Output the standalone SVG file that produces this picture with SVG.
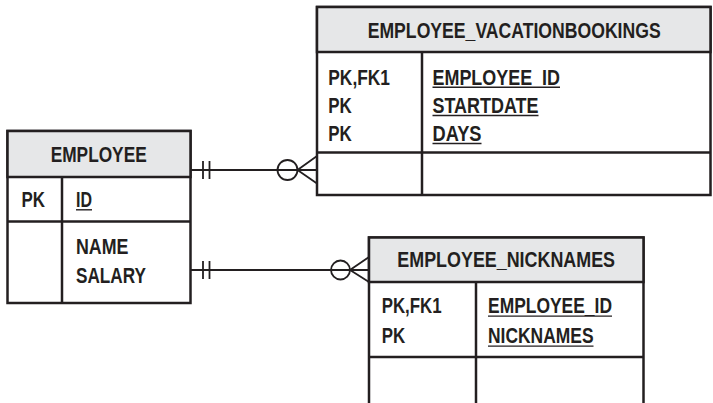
<svg xmlns="http://www.w3.org/2000/svg" width="713" height="403" viewBox="0 0 713 403">
<style>
.box{fill:#fff;stroke:#231f20;stroke-width:2.5}
.hdr{fill:#e6e7e8;stroke:#231f20;stroke-width:2.5}
.ln{stroke:#231f20;stroke-width:2.5;fill:none}
.cn{stroke:#231f20;stroke-width:1.8;fill:none}
.ul{stroke:#231f20;stroke-width:1.4}
text{font-family:"Liberation Sans",Arial,sans-serif;font-size:21.5px;font-weight:bold;fill:#231f20}
.c{text-anchor:middle}
</style>
<rect width="713" height="403" fill="#fff"/>
<g id="connectors">
  <line class="cn" x1="190.5" y1="170" x2="317" y2="170"/>
  <line class="cn" x1="203" y1="161" x2="203" y2="179"/>
  <line class="cn" x1="209.5" y1="161" x2="209.5" y2="179"/>
  <circle class="cn" cx="287.5" cy="170" r="10" fill="#fff"/>
  <line class="cn" x1="287.5" y1="170" x2="317" y2="170"/>
  <polyline class="cn" points="317,156 297.5,170 317,183.5"/>
  <line class="cn" x1="190.5" y1="270" x2="369" y2="270"/>
  <line class="cn" x1="203" y1="261" x2="203" y2="279"/>
  <line class="cn" x1="209.5" y1="261" x2="209.5" y2="279"/>
  <circle class="cn" cx="340.5" cy="270" r="9.5" fill="#fff"/>
  <line class="cn" x1="340.5" y1="270" x2="369" y2="270"/>
  <polyline class="cn" points="369,257 350,270 369,282"/>
</g>
<g id="employee">
  <rect class="box" x="7.5" y="131" width="183" height="172"/>
  <rect class="hdr" x="7.5" y="131" width="183" height="46"/>
  <line class="ln" x1="62" y1="177" x2="62" y2="303"/>
  <line class="ln" x1="7.5" y1="221.5" x2="190.5" y2="221.5"/>
  <text class="c" x="98.7" y="162" textLength="96" lengthAdjust="spacingAndGlyphs">EMPLOYEE</text>
  <text x="21.5" y="207" textLength="23.5" lengthAdjust="spacingAndGlyphs">PK</text>
  <text x="76" y="207" textLength="16" lengthAdjust="spacingAndGlyphs">ID</text>
  <line class="ul" x1="76" y1="209.8" x2="92" y2="209.8"/>
  <text x="76" y="254" textLength="52.5" lengthAdjust="spacingAndGlyphs">NAME</text>
  <text x="76" y="283" textLength="70" lengthAdjust="spacingAndGlyphs">SALARY</text>
</g>
<g id="employee_vacationbookings">
  <rect class="box" x="317" y="7" width="393.5" height="188"/>
  <rect class="hdr" x="317" y="7" width="393.5" height="45"/>
  <line class="ln" x1="422" y1="52" x2="422" y2="195"/>
  <line class="ln" x1="317" y1="152.5" x2="710.5" y2="152.5"/>
  <text class="c" x="514.2" y="37.5" textLength="293" lengthAdjust="spacingAndGlyphs">EMPLOYEE_VACATIONBOOKINGS</text>
  <text x="328.3" y="84.5" textLength="61.7" lengthAdjust="spacingAndGlyphs">PK,FK1</text>
  <text x="328.3" y="112.7" textLength="23.5" lengthAdjust="spacingAndGlyphs">PK</text>
  <text x="328.3" y="140.7" textLength="23.5" lengthAdjust="spacingAndGlyphs">PK</text>
  <text x="432.5" y="84.5" textLength="127.5" lengthAdjust="spacingAndGlyphs">EMPLOYEE_ID</text>
  <line class="ul" x1="432.5" y1="87.3" x2="560" y2="87.3"/>
  <text x="432.5" y="112.7" textLength="106" lengthAdjust="spacingAndGlyphs">STARTDATE</text>
  <line class="ul" x1="432.5" y1="115.5" x2="538.5" y2="115.5"/>
  <text x="432.5" y="140.7" textLength="49" lengthAdjust="spacingAndGlyphs">DAYS</text>
  <line class="ul" x1="432.5" y1="143.5" x2="481.5" y2="143.5"/>
</g>
<g id="employee_nicknames">
  <rect class="box" x="369" y="237.5" width="274.5" height="175"/>
  <rect class="hdr" x="369" y="237.5" width="274.5" height="44.5"/>
  <line class="ln" x1="476" y1="282" x2="476" y2="412"/>
  <line class="ln" x1="369" y1="357" x2="643.5" y2="357"/>
  <text class="c" x="506.2" y="267.3" textLength="217.7" lengthAdjust="spacingAndGlyphs">EMPLOYEE_NICKNAMES</text>
  <text x="381.7" y="313.3" textLength="60" lengthAdjust="spacingAndGlyphs">PK,FK1</text>
  <text x="381.7" y="343.3" textLength="23.5" lengthAdjust="spacingAndGlyphs">PK</text>
  <text x="488" y="313.3" textLength="124" lengthAdjust="spacingAndGlyphs">EMPLOYEE_ID</text>
  <line class="ul" x1="488" y1="316.1" x2="612" y2="316.1"/>
  <text x="488" y="343.3" textLength="105.5" lengthAdjust="spacingAndGlyphs">NICKNAMES</text>
  <line class="ul" x1="488" y1="346.1" x2="593.5" y2="346.1"/>
</g>
</svg>
